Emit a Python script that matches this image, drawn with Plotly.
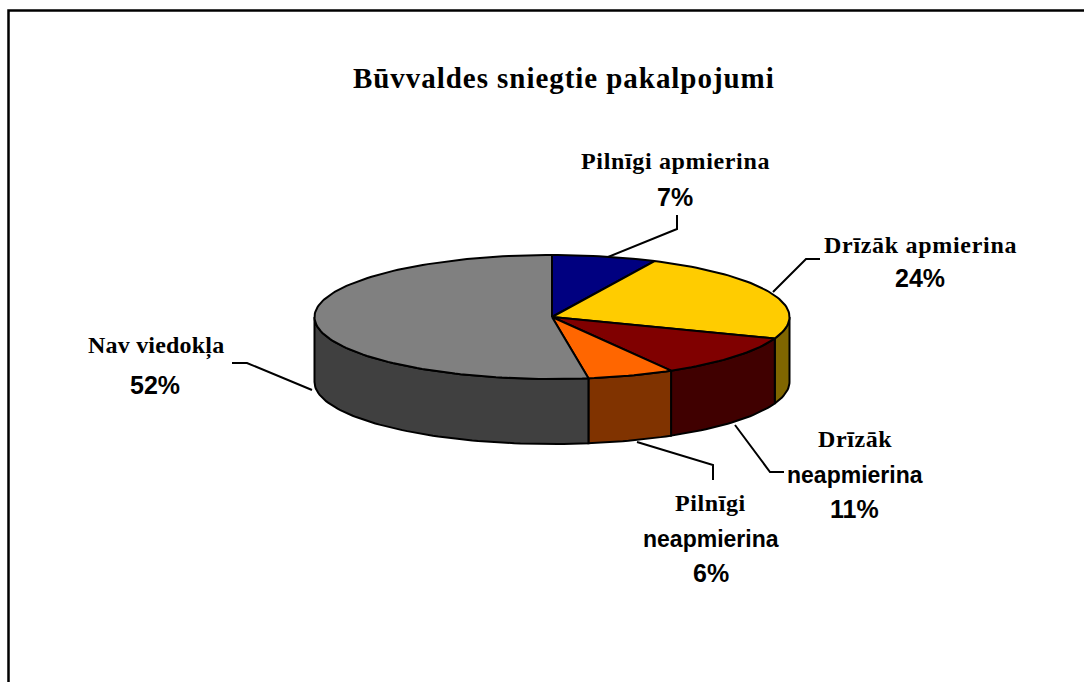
import math
import plotly.graph_objects as go

# ---- data ----
categories = ["Pilnīgi apmierina", "Drīzāk apmierina", "Drīzāk neapmierina", "Pilnīgi neapmierina", "Nav viedokļa"]
values = [7.1, 23.5, 11.0, 5.9, 52.4]  # slice sizes as drawn in the picture
top_colors = ["#000080", "#FFCC00", "#800000", "#FF6600", "#808080"]
side_colors = ["#000040", "#806600", "#400000", "#803300", "#404040"]
title_text = "Būvvaldes sniegtie pakalpojumi"

# ---- layout constants (pixels of the 1084x682 page) ----
W, H = 1084, 682
CX, CY, RX, RY, DEPTH = 552, 317, 237.5, 62, 65
SERIF, SANS = "Liberation Serif", "Liberation Sans"

leaders = [
    [(608, 257), (677, 229), (677, 215)],
    [(773, 292), (806, 259), (820, 259)],
    [(735, 425), (770, 472), (784, 472)],
    [(637, 442), (713, 465), (713, 480)],
    [(312, 390), (247, 363), (232, 363)],
]
label_lines = [
    ("Pilnīgi apmierina", 675, 161, SERIF, 24, 0.65),
    ("7%", 675, 197, SANS, 25, 0),
    ("Drīzāk apmierina", 920, 245, SERIF, 24, 0.7),
    ("24%", 920, 278, SANS, 25, 0),
    ("Drīzāk", 855, 439, SERIF, 24, 0.6),
    ("neapmierina", 855, 475, SANS, 23, 0),
    ("11%", 854, 509, SANS, 25, 0),
    ("Pilnīgi", 710, 503, SERIF, 24, 0.6),
    ("neapmierina", 711, 539, SANS, 23, 0),
    ("6%", 711, 573, SANS, 25, 0),
    ("Nav viedokļa", 156, 346, SERIF, 24, 0.2),
    ("52%", 155, 385, SANS, 25, 0),
]


def rim(a0, a1, dy=0.0, n=80):
    steps = max(2, int(n * (a1 - a0) / 360) + 2)
    xs, ys = [], []
    for i in range(steps):
        t = math.radians(a0 + (a1 - a0) * i / (steps - 1))
        xs.append(CX + RX * math.sin(t))
        ys.append(CY - RY * math.cos(t) + dy)
    return xs, ys


fig = go.Figure()
total = sum(values)
start = 0.0
spans = []
for v in values:
    end = start + 360.0 * v / total
    spans.append((start, end))
    start = end

LINE = dict(color="#000000", width=2)
# visible side walls (front half of the disc)
for (a0, a1), col in zip(spans, side_colors):
    lo, hi = max(a0, 90), min(a1, 270)
    if hi <= lo:
        continue
    x1, y1 = rim(lo, hi, 0, 240)
    x2, y2 = rim(lo, hi, DEPTH, 240)
    fig.add_trace(go.Scatter(x=x1 + x2[::-1] + [x1[0]], y=y1 + y2[::-1] + [y1[0]], mode="lines",
                             fill="toself", fillcolor=col, line=LINE, hoverinfo="skip"))
# top faces
for (a0, a1), col, name in zip(spans, top_colors, categories):
    x1, y1 = rim(a0, a1, 0, 240)
    fig.add_trace(go.Scatter(x=[CX] + x1 + [CX], y=[CY] + y1 + [CY], mode="lines", name=name,
                             fill="toself", fillcolor=col, line=LINE))
# leader lines
for pts in leaders:
    fig.add_trace(go.Scatter(x=[p[0] for p in pts], y=[p[1] for p in pts], mode="lines",
                             line=LINE, hoverinfo="skip"))


def ann(text, x, y, family, size, spacing):
    fig.add_annotation(x=x, y=y, xref="x", yref="y", showarrow=False, xanchor="center", yanchor="middle",
                       text=f'<span style="letter-spacing:{spacing}px"><b>{text}</b></span>' if spacing else f"<b>{text}</b>",
                       font=dict(family=family, size=size, color="#000000"))


ann(title_text, 564, 78, SERIF, 29, 0.95)
for line in label_lines:
    ann(*line)

fig.update_layout(
    width=W, height=H, margin=dict(l=0, r=0, t=0, b=0), showlegend=False,
    paper_bgcolor="#FFFFFF", plot_bgcolor="#FFFFFF",
    xaxis=dict(range=[0, W], visible=False, fixedrange=True),
    yaxis=dict(range=[H, 0], visible=False, fixedrange=True),
    shapes=[dict(type="rect", xref="x", yref="y", x0=8.5, y0=10.5, x1=W + 20, y1=H + 20,
                 line=dict(color="#000000", width=2.5), layer="below")],
)
fig.write_html("out.html", config={"displayModeBar": False},
               post_script="document.body.style.margin='0';")
